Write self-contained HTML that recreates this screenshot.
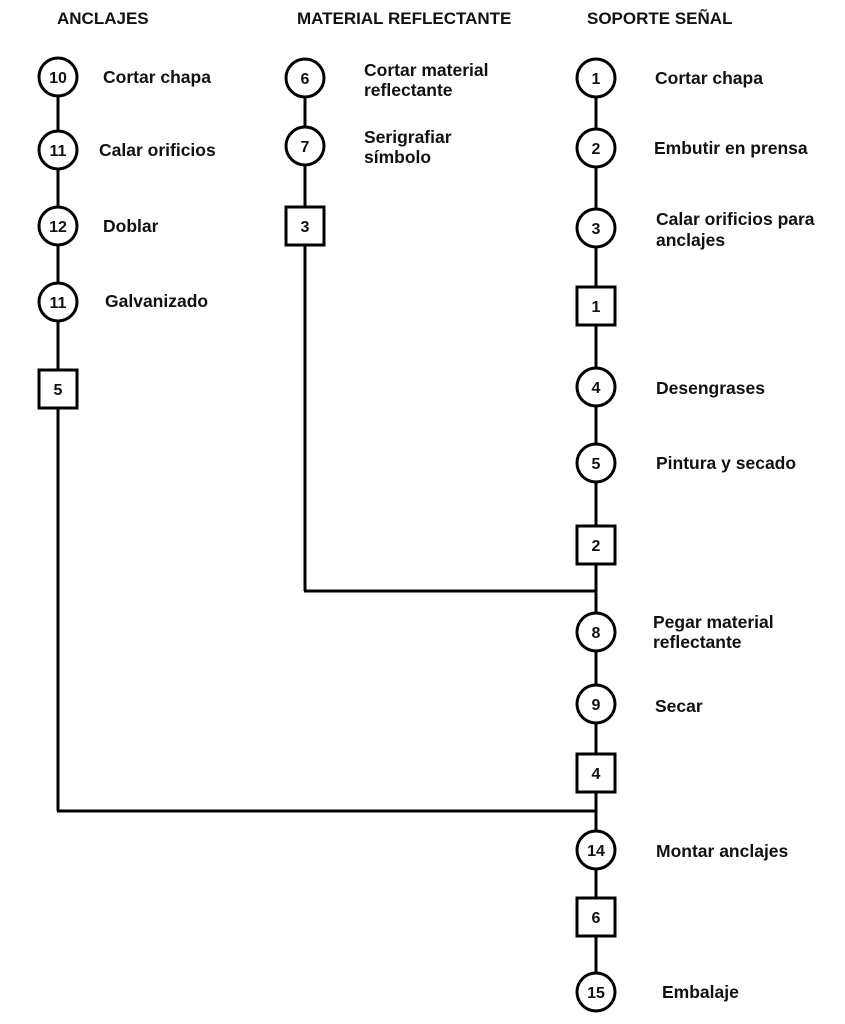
<!DOCTYPE html>
<html><head><meta charset="utf-8"><style>
html,body{margin:0;padding:0;background:#fff;}
svg{display:block;}
text{font-family:"Liberation Sans",Arial,sans-serif;font-weight:bold;fill:#111;}
</style></head><body>
<svg width="845" height="1024" viewBox="0 0 845 1024" xmlns="http://www.w3.org/2000/svg">
<g stroke="#000" stroke-width="3" fill="none">
<line x1="58" y1="77" x2="58" y2="811"/>
<line x1="57" y1="811" x2="597" y2="811"/>
<line x1="305" y1="77" x2="305" y2="591"/>
<line x1="304" y1="591" x2="597" y2="591"/>
<line x1="596" y1="78" x2="596" y2="992"/>
</g>
<g stroke="#000" stroke-width="3" fill="#fff">
<circle cx="58" cy="77" r="19"/>
<circle cx="58" cy="150" r="19"/>
<circle cx="58" cy="226" r="19"/>
<circle cx="58" cy="302" r="19"/>
<rect x="39" y="370" width="38" height="38"/>
<circle cx="305" cy="78" r="19"/>
<circle cx="305" cy="146" r="19"/>
<rect x="286" y="207" width="38" height="38"/>
<circle cx="596" cy="78" r="19"/>
<circle cx="596" cy="148" r="19"/>
<circle cx="596" cy="228" r="19"/>
<rect x="577" y="287" width="38" height="38"/>
<circle cx="596" cy="387" r="19"/>
<circle cx="596" cy="463" r="19"/>
<rect x="577" y="526" width="38" height="38"/>
<circle cx="596" cy="632" r="19"/>
<circle cx="596" cy="704" r="19"/>
<rect x="577" y="754" width="38" height="38"/>
<circle cx="596" cy="850" r="19"/>
<rect x="577" y="898" width="38" height="38"/>
<circle cx="596" cy="992" r="19"/>
</g>
<g font-size="16" text-anchor="middle">
<text x="58" y="83">10</text>
<text x="58" y="156">11</text>
<text x="58" y="232">12</text>
<text x="58" y="308">11</text>
<text x="58" y="395">5</text>
<text x="305" y="84">6</text>
<text x="305" y="152">7</text>
<text x="305" y="232">3</text>
<text x="596" y="84">1</text>
<text x="596" y="154">2</text>
<text x="596" y="234">3</text>
<text x="596" y="312">1</text>
<text x="596" y="393">4</text>
<text x="596" y="469">5</text>
<text x="596" y="551">2</text>
<text x="596" y="638">8</text>
<text x="596" y="710">9</text>
<text x="596" y="779">4</text>
<text x="596" y="856">14</text>
<text x="596" y="923">6</text>
<text x="596" y="998">15</text>
</g>
<g font-size="17">
<text x="57" y="24">ANCLAJES</text>
<text x="297" y="24">MATERIAL REFLECTANTE</text>
<text x="587" y="24">SOPORTE SEÑAL</text>
</g>
<g font-size="17.5">
<text x="103" y="83">Cortar chapa</text>
<text x="99" y="156">Calar orificios</text>
<text x="103" y="232">Doblar</text>
<text x="105" y="307">Galvanizado</text>
<text x="364" y="76">Cortar material</text>
<text x="364" y="96">reflectante</text>
<text x="364" y="143">Serigrafiar</text>
<text x="364" y="163">símbolo</text>
<text x="655" y="84">Cortar chapa</text>
<text x="654" y="154">Embutir en prensa</text>
<text x="656" y="225">Calar orificios para</text>
<text x="656" y="246">anclajes</text>
<text x="656" y="394">Desengrases</text>
<text x="656" y="469">Pintura y secado</text>
<text x="653" y="628">Pegar material</text>
<text x="653" y="648">reflectante</text>
<text x="655" y="712">Secar</text>
<text x="656" y="857">Montar anclajes</text>
<text x="662" y="998">Embalaje</text>
</g>
</svg>
</body></html>
